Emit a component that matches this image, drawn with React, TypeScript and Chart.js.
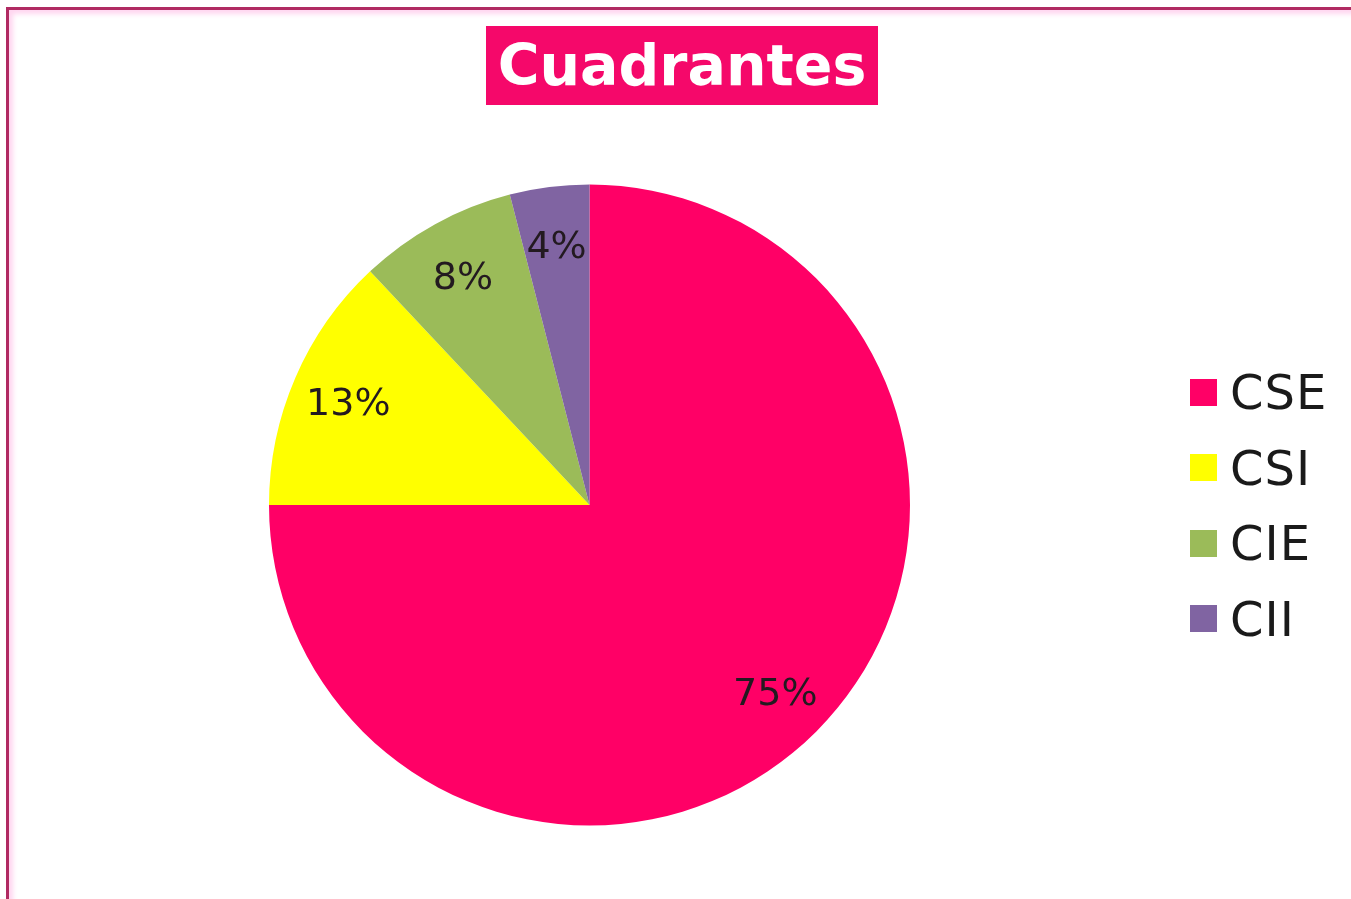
import React, { useEffect, useRef } from "react";
import { Chart, registerables } from "chart.js";

Chart.register(...registerables);

const categories = ["CSE", "CSI", "CIE", "CII"];
const values = [75, 13, 8, 4];
const valueLabels = ["75%", "13%", "8%", "4%"];
const colors = ["#ff0066", "#ffff00", "#9bbb59", "#8064a2"];
const titleText = "Cuadrantes";

const labelPlugin = {
  id: "sliceLabels",
  afterDatasetsDraw(chart: any) {
    const ctx = chart.ctx;
    const meta = chart.getDatasetMeta(0);
    ctx.save();
    ctx.font = "38px 'DejaVu Sans'";
    ctx.fillStyle = "#231a20";
    ctx.textAlign = "center";
    ctx.textBaseline = "middle";
    meta.data.forEach((arc: any, i: number) => {
      const p = arc.getProps(["x", "y", "startAngle", "endAngle", "outerRadius"], true);
      const mid = (p.startAngle + p.endAngle) / 2;
      const r = p.outerRadius * 0.82;
      ctx.fillText(valueLabels[i], p.x + Math.cos(mid) * r, p.y + Math.sin(mid) * r + 4);
    });
    ctx.restore();
  },
};

export default function App() {
  const ref = useRef<HTMLCanvasElement>(null);
  useEffect(() => {
    document.body.style.margin = "0";
    const chart = new Chart(ref.current!, {
      type: "pie",
      data: {
        labels: categories,
        datasets: [
          {
            data: values,
            backgroundColor: colors,
            borderWidth: 0,
          },
        ],
      },
      options: {
        animation: false,
        responsive: false,
        layout: { padding: { left: 269, right: 441, top: 184, bottom: 73 } },
        plugins: {
          legend: { display: false },
          title: { display: false },
          tooltip: { enabled: false },
        },
      },
      plugins: [labelPlugin],
    });
    return () => chart.destroy();
  }, []);

  return (
    <div
      style={{
        position: "relative",
        width: 1351,
        height: 899,
        overflow: "hidden",
        background: "#ffffff",
        fontFamily: "'DejaVu Sans', sans-serif",
      }}
    >
      <div
        style={{
          position: "absolute",
          left: 6,
          top: 7,
          width: 1400,
          height: 950,
          borderTop: "3px solid #b02a62",
          borderLeft: "3px solid #b02a62",
          boxShadow: "inset 4px 4px 5px #ffd6f0",
          boxSizing: "border-box",
        }}
      />
      <canvas ref={ref} width={1351} height={899} style={{ position: "absolute", left: 0, top: 0 }} />
      <div
        style={{
          position: "absolute",
          left: 486,
          top: 26,
          width: 392,
          height: 79,
          background: "#f5086a",
          color: "#ffffff",
          fontWeight: "bold",
          fontSize: 57,
          lineHeight: "79px",
          textAlign: "center",
          whiteSpace: "nowrap",
        }}
      >
        {titleText}
      </div>
      {categories.map((c, i) => (
        <div
          key={c}
          style={{
            position: "absolute",
            left: 1190,
            top: 392 + i * 75.5 - 30,
            height: 60,
            display: "flex",
            alignItems: "center",
            fontSize: 48,
            color: "#1a1a1a",
            whiteSpace: "nowrap",
          }}
        >
          <span
            style={{
              display: "inline-block",
              width: 27,
              height: 27,
              background: colors[i],
              marginRight: 13,
            }}
          />
          <span style={{ letterSpacing: 1 }}>{c}</span>
        </div>
      ))}
    </div>
  );
}
